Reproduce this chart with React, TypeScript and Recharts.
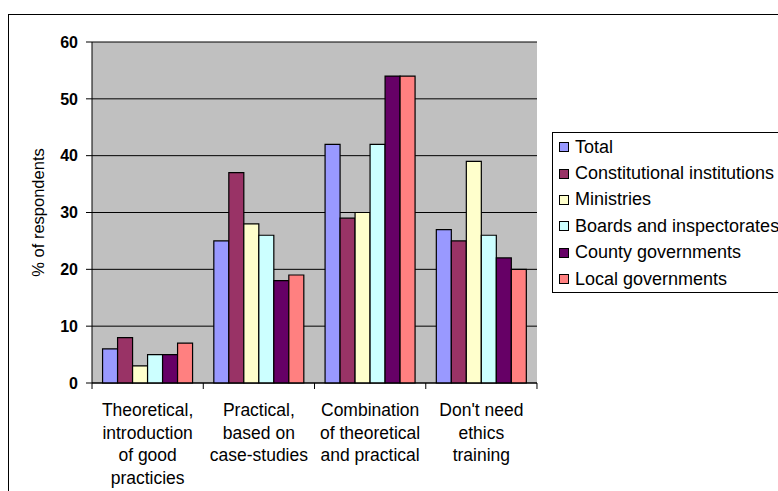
import React from "react";
import { BarChart, Bar, XAxis, YAxis, CartesianGrid, Legend, Label } from "recharts";

const categoryLines: string[][] = [
  ["Theoretical,", "introduction", "of good", "practicies"],
  ["Practical,", "based on", "case-studies"],
  ["Combination", "of theoretical", "and practical"],
  ["Don't need", "ethics", "training"],
];
const categories = categoryLines.map((l) => l.join(" "));

const total = [6, 25, 42, 27];
const constitutional = [8, 37, 29, 25];
const ministries = [3, 28, 30, 39];
const boards = [5, 26, 42, 26];
const county = [5, 18, 54, 22];
const local = [7, 19, 54, 20];

const yTicks = [0, 10, 20, 30, 40, 50, 60];

const seriesNames = [
  "Total",
  "Constitutional institutions",
  "Ministries",
  "Boards and inspectorates",
  "County governments",
  "Local governments",
];
const seriesKeys = ["total", "constitutional", "ministries", "boards", "county", "local"];
const seriesColors = ["#9999FF", "#993366", "#FFFFCC", "#CCFFFF", "#660066", "#FF8080"];
const seriesValues = [total, constitutional, ministries, boards, county, local];

const data = categories.map((c, i) => {
  const row: Record<string, any> = { name: c, idx: i };
  seriesKeys.forEach((k, s) => {
    row[k] = seriesValues[s][i];
  });
  return row;
});

const FONT = "'Liberation Sans', Arial, sans-serif";

const XTick = (props: any) => {
  const { x, y, payload, index, visibleTicksCount } = props;
  const lines = categoryLines[payload.index ?? index] || [String(payload.value)];
  const half = props.bandSize ? props.bandSize / 2 : 55.6;
  const axisY = y - 8;
  const count = visibleTicksCount ?? categoryLines.length;
  return (
    <g>
      <line x1={x - half} x2={x - half} y1={axisY} y2={axisY + 6} stroke="#000" />
      {index === count - 1 && (
        <line x1={x + half} x2={x + half} y1={axisY} y2={axisY + 6} stroke="#000" />
      )}
      <text x={x} y={y + 25} textAnchor="middle" fontFamily={FONT} fontSize={17.5} fill="#000">
        {lines.map((l, i) => (
          <tspan key={i} x={x} dy={i === 0 ? 0 : 22.5}>
            {l}
          </tspan>
        ))}
      </text>
    </g>
  );
};

const YLabel = (props: any) => {
  const vb = props.viewBox || { x: 0, y: 42, width: 92, height: 341 };
  const cx = vb.x + 38;
  const cy = vb.y + vb.height / 2;
  return (
    <text
      x={cx}
      y={cy}
      textAnchor="middle"
      dominantBaseline="central"
      transform={`rotate(-90, ${cx}, ${cy})`}
      fontFamily={FONT}
      fontSize={16.5}
      fill="#000"
    >
      % of respondents
    </text>
  );
};

const LegendContent = () => (
  <div
    style={{
      border: "1px solid #000",
      background: "#fff",
      paddingTop: 1,
      width: 300,
      boxSizing: "border-box",
      fontFamily: FONT,
      fontSize: 18,
      color: "#000",
    }}
  >
    {seriesNames.map((n, i) => (
      <div key={n} style={{ height: 26.4, display: "flex", alignItems: "center", whiteSpace: "nowrap" }}>
        <span
          style={{
            display: "inline-block",
            width: 8,
            height: 8,
            border: "1px solid #000",
            background: seriesColors[i],
            marginLeft: 6,
            marginRight: 6,
          }}
        />
        <span>{n}</span>
      </div>
    ))}
  </div>
);

export default function App() {
  return (
    <div
      style={{
        position: "fixed",
        left: 0,
        top: 0,
        width: 778,
        height: 491,
        overflow: "hidden",
        background: "#fff",
      }}
    >
      <div
        style={{
          position: "absolute",
          left: 8,
          top: 14,
          width: 820,
          height: 520,
          border: "1.5px solid #000",
        }}
      />
      <div style={{ position: "absolute", left: 0, top: 0 }}>
        <BarChart
          width={778}
          height={491}
          data={data}
          margin={{ top: 42, right: 241, bottom: 0, left: 0 }}
          barCategoryGap="9.5%"
          barGap={0}
        >
          <CartesianGrid vertical={false} stroke="#000" fill="#C0C0C0" fillOpacity={1} />
          <XAxis
            dataKey="name"
            height={108}
            interval={0}
            axisLine={{ stroke: "#000" }}
            tickLine={false}
            tickSize={6}
            tick={<XTick />}
          />
          <YAxis
            width={92}
            domain={[0, 60]}
            ticks={yTicks}
            interval={0}
            axisLine={{ stroke: "#000" }}
            tickLine={{ stroke: "#000" }}
            tickSize={6}
            tickMargin={8}
            tick={{ fontFamily: FONT, fontSize: 16, fontWeight: "bold", fill: "#000" }}
          >
            <Label content={<YLabel />} />
          </YAxis>
          <YAxis
            yAxisId="r"
            orientation="right"
            width={0}
            domain={[0, 60]}
            tick={false}
            tickLine={false}
            axisLine={{ stroke: "#808080" }}
          />
          <Legend
            layout="horizontal"
            align="center"
            verticalAlign="middle"
            content={<LegendContent />}
            wrapperStyle={{ position: "absolute", left: 552, top: 132, width: 300 }}
          />
          {seriesKeys.map((k, i) => (
            <Bar
              key={k}
              dataKey={k}
              name={seriesNames[i]}
              fill={seriesColors[i]}
              stroke="#000"
              strokeWidth={1.2}
              isAnimationActive={false}
            />
          ))}
        </BarChart>
      </div>
    </div>
  );
}
